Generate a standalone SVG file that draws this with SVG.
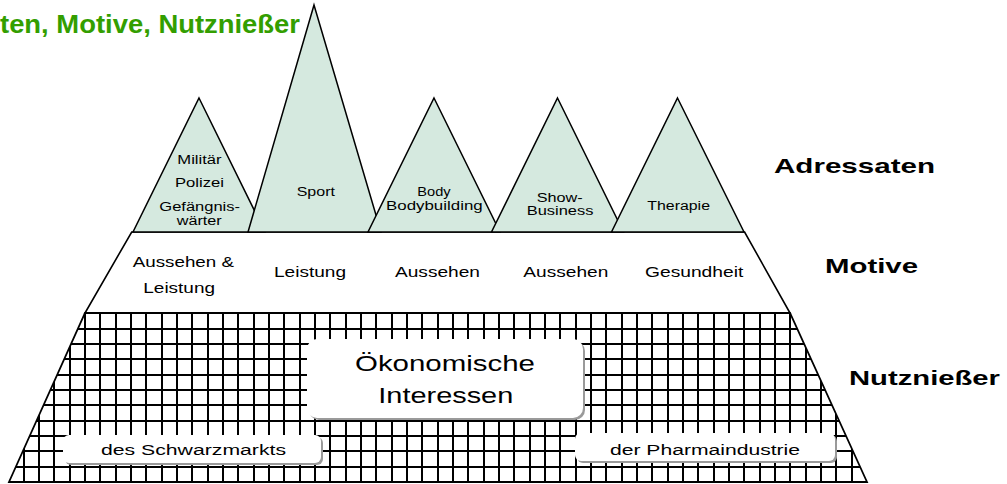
<svg xmlns="http://www.w3.org/2000/svg" width="1007" height="484" viewBox="0 0 1007 484">
<style>
.tri{fill:#d5e9df;stroke:#000;stroke-width:1.5;stroke-linejoin:miter}
.band{fill:#fff;stroke:#000;stroke-width:1.6}
.gridl{fill:none;stroke:#000;stroke-width:2;shape-rendering:crispEdges}
.edge{fill:none;stroke:#000;stroke-width:1.8}
.box{fill:#fff;stroke:none}
.shadow{fill:#9a9a9a}
.t{font-family:"Liberation Sans",Arial,sans-serif;fill:#000}
.b{font-weight:bold}
.s12{font-size:12.5px}
.s14{font-size:14.5px}
.s15{font-size:15.5px}
.s21{font-size:21px}
.s22{font-size:21.5px}
</style>
<defs>
<clipPath id="gridclip"><polygon points="85,313 790,313 867,482 9,482"/></clipPath>
</defs>

<text class="t b" x="0" y="33" font-size="25.5" style="fill:#339e00" textLength="300" lengthAdjust="spacingAndGlyphs">ten, Motive, Nutznießer</text>

<g id="motive-band">
<polygon class="band" points="131.7,232 744.6,232 790,313 85,313"/>
<text class="t s14" x="132.7" y="266.7" textLength="101.3" lengthAdjust="spacingAndGlyphs">Aussehen &amp;</text>
<text class="t s14" x="143.3" y="292.7" textLength="71.7" lengthAdjust="spacingAndGlyphs">Leistung</text>
<text class="t s14" x="274" y="277.3" textLength="72" lengthAdjust="spacingAndGlyphs">Leistung</text>
<text class="t s14" x="395" y="277.3" textLength="85" lengthAdjust="spacingAndGlyphs">Aussehen</text>
<text class="t s14" x="523.3" y="277.3" textLength="85" lengthAdjust="spacingAndGlyphs">Aussehen</text>
<text class="t s14" x="645" y="277.3" textLength="98.3" lengthAdjust="spacingAndGlyphs">Gesundheit</text>
</g>

<g id="grid-band">
<polygon points="85,313 790,313 867,482 9,482" fill="#fff"/>
<g clip-path="url(#gridclip)">
<path class="gridl" d="M8.333 313v169m15.333-169v169m15.333-169v169m15.333-169v169m15.333-169v169m15.333-169v169m15.333-169v169m15.333-169v169m15.333-169v169m15.333-169v169m15.333-169v169m15.333-169v169m15.333-169v169m15.333-169v169m15.333-169v169m15.333-169v169m15.333-169v169m15.333-169v169m15.333-169v169m15.333-169v169m15.333-169v169m15.333-169v169m15.333-169v169m15.333-169v169m15.333-169v169m15.333-169v169m15.333-169v169m15.333-169v169m15.333-169v169m15.333-169v169m15.333-169v169m15.333-169v169m15.333-169v169m15.333-169v169m15.333-169v169m15.333-169v169m15.333-169v169m15.333-169v169m15.333-169v169m15.333-169v169m15.333-169v169m15.333-169v169m15.333-169v169m15.333-169v169m15.333-169v169m15.333-169v169m15.333-169v169m15.333-169v169m15.333-169v169m15.333-169v169m15.333-169v169m15.333-169v169m15.333-169v169m15.333-169v169m15.333-169v169m15.333-169v169"/>
<path class="gridl" d="M0 313.4h1007m-1007 15.333h1007m-1007 15.333h1007m-1007 15.333h1007m-1007 15.333h1007m-1007 15.333h1007m-1007 15.333h1007m-1007 15.333h1007m-1007 15.333h1007m-1007 15.333h1007m-1007 15.333h1007m-1007 15.333h1007"/>
</g>
<polygon class="edge" points="85,313 790,313 867,482 9,482"/>
</g>

<g id="adressat-militaer">
<polygon class="tri" points="199,98 265,232 133,232"/>
<text class="t s12" x="177.3" y="164" textLength="44.3" lengthAdjust="spacingAndGlyphs">Militär</text>
<text class="t s12" x="175" y="186.7" textLength="49" lengthAdjust="spacingAndGlyphs">Polizei</text>
<text class="t s12" x="159.3" y="210.7" textLength="80.7" lengthAdjust="spacingAndGlyphs">Gefängnis-</text>
<text class="t s12" x="176.7" y="225" textLength="45" lengthAdjust="spacingAndGlyphs">wärter</text>
</g>
<g id="adressat-sport">
<polygon class="tri" points="314,5 381,232 248,232"/>
<text class="t s12" x="296.7" y="196" textLength="38.3" lengthAdjust="spacingAndGlyphs">Sport</text>
</g>
<g id="adressat-body">
<polygon class="tri" points="434,98 500,232 368,232"/>
<text class="t s12" x="417.3" y="196" textLength="33.3" lengthAdjust="spacingAndGlyphs">Body</text>
<text class="t s12" x="386" y="210" textLength="96.7" lengthAdjust="spacingAndGlyphs">Bodybuilding</text>
</g>
<g id="adressat-show">
<polygon class="tri" points="557.5,98 623.5,232 491.5,232"/>
<text class="t s12" x="536.7" y="201.7" textLength="46" lengthAdjust="spacingAndGlyphs">Show-</text>
<text class="t s12" x="526.7" y="215" textLength="66.7" lengthAdjust="spacingAndGlyphs">Business</text>
</g>
<g id="adressat-therapie">
<polygon class="tri" points="677.5,98 744,232 611.5,232"/>
<text class="t s12" x="647.3" y="210" textLength="62.7" lengthAdjust="spacingAndGlyphs">Therapie</text>
</g>

<g id="box-oekonomisch">
<rect class="shadow" x="309" y="341" width="276" height="79" rx="10"/>
<rect class="box" x="307" y="339" width="276" height="79" rx="10"/>
<text class="t s22" x="355" y="370.7" textLength="180" lengthAdjust="spacingAndGlyphs">Ökonomische</text>
<text class="t s22" x="378.3" y="403.3" textLength="135" lengthAdjust="spacingAndGlyphs">Interessen</text>
</g>
<g id="box-schwarzmarkt">
<rect class="shadow" x="65" y="437" width="258" height="28" rx="6"/>
<rect class="box" x="63" y="435" width="258" height="28" rx="6"/>
<text class="t s15" x="101" y="455" textLength="185" lengthAdjust="spacingAndGlyphs">des Schwarzmarkts</text>
</g>
<g id="box-pharma">
<rect class="shadow" x="577" y="435" width="260" height="28" rx="6"/>
<rect class="box" x="575" y="433" width="260" height="28" rx="6"/>
<text class="t s15" x="610" y="455" textLength="190" lengthAdjust="spacingAndGlyphs">der Pharmaindustrie</text>
</g>

<g id="level-labels">
<text class="t b s21" x="774" y="173" textLength="161" lengthAdjust="spacingAndGlyphs">Adressaten</text>
<text class="t b s21" x="825" y="273" textLength="93" lengthAdjust="spacingAndGlyphs">Motive</text>
<text class="t b s21" x="849" y="385" textLength="151" lengthAdjust="spacingAndGlyphs">Nutznießer</text>
</g>
<g id="connectors"/>
</svg>
